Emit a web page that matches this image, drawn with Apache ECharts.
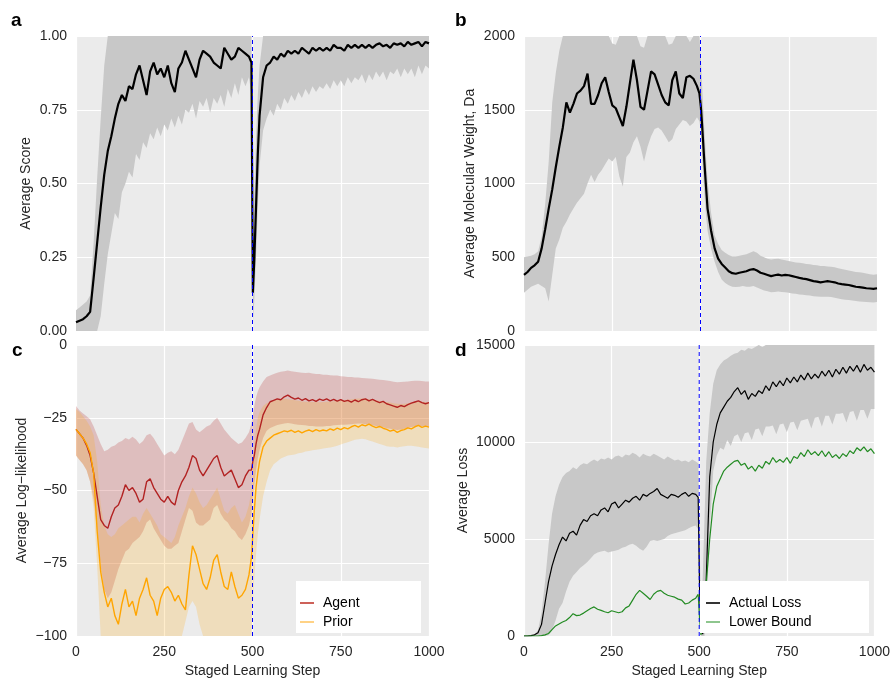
<!DOCTYPE html>
<html>
<head>
<meta charset="utf-8">
<script src="https://cdn.jsdelivr.net/npm/echarts@6/dist/echarts.min.js"></script>
<style>
  html, body { margin: 0; padding: 0; background: #fff; }
  #chart { width: 893px; height: 679px; }
</style>
</head>
<body>
<div id="chart"></div>
<script>
// staged learning steps (denser around the stage switch at 500)
const steps = [
  0, 10, 20, 30, 40, 50, 60, 70, 80, 90,
  100, 110, 120, 130, 140, 150, 160, 170, 180, 190,
  200, 210, 220, 230, 240, 250, 260, 270, 280, 290,
  300, 310, 320, 330, 340, 350, 360, 370, 380, 390,
  400, 410, 420, 430, 440, 450, 460, 470, 480, 490,
  497, 501, 505, 510, 515, 520,
  530, 540, 550, 560, 570, 580, 590, 600,
  610, 620, 630, 640, 650, 660, 670, 680, 690, 700,
  710, 720, 730, 740, 750, 760, 770, 780, 790, 800,
  810, 820, 830, 840, 850, 860, 870, 880, 890, 900,
  910, 920, 930, 940, 950, 960, 970, 980, 990, 1000
];
const switchStep = 500;

// a: average score
const scoreMean = [
  0.03, 0.035, 0.04, 0.05, 0.065, 0.18, 0.30, 0.42, 0.53, 0.61,
  0.66, 0.72, 0.77, 0.80, 0.78, 0.83, 0.82, 0.87, 0.90, 0.85,
  0.80, 0.88, 0.91, 0.87, 0.89, 0.86, 0.90, 0.84, 0.81, 0.89,
  0.91, 0.95, 0.92, 0.89, 0.86, 0.92, 0.95, 0.94, 0.93, 0.91,
  0.90, 0.89, 0.96, 0.94, 0.92, 0.93, 0.96, 0.95, 0.94, 0.93,
  0.91, 0.13, 0.24, 0.42, 0.60, 0.73,
  0.86, 0.90, 0.91, 0.93, 0.92, 0.94, 0.93, 0.95,
  0.94, 0.95, 0.94, 0.96, 0.95, 0.94, 0.96, 0.95, 0.96, 0.95,
  0.96, 0.95, 0.97, 0.96, 0.96, 0.95, 0.97, 0.96, 0.97, 0.96,
  0.97, 0.96, 0.97, 0.96, 0.97, 0.975, 0.965, 0.97, 0.96, 0.975,
  0.97, 0.975, 0.965, 0.98, 0.97, 0.975, 0.98, 0.965, 0.98, 0.975
];
const scoreHi = [
  0.07, 0.08, 0.09, 0.10, 0.12, 0.30, 0.52, 0.72, 0.90, 1,
  1, 1, 1, 1, 1, 1, 1, 1, 1, 1,
  1, 1, 1, 1, 1, 1, 1, 1, 1, 1,
  1, 1, 1, 1, 1, 1, 1, 1, 1, 1,
  1, 1, 1, 1, 1, 1, 1, 1, 1, 1,
  1, 0.3, 0.45, 0.65, 0.8, 0.9,
  1, 1, 1, 1, 1, 1, 1, 1,
  1, 1, 1, 1, 1, 1, 1, 1, 1, 1,
  1, 1, 1, 1, 1, 1, 1, 1, 1, 1,
  1, 1, 1, 1, 1, 1, 1, 1, 1, 1,
  1, 1, 1, 1, 1, 1, 1, 1, 1, 1
];
const scoreLo = [
  0, 0, 0, 0, 0, 0, 0, 0.05, 0.16, 0.26,
  0.33, 0.40, 0.38, 0.47, 0.50, 0.54, 0.52, 0.60, 0.58, 0.64,
  0.62, 0.67, 0.65, 0.69, 0.66, 0.70, 0.68, 0.72, 0.69, 0.73,
  0.70, 0.75, 0.74, 0.77, 0.72, 0.78, 0.76, 0.79, 0.74, 0.79,
  0.77, 0.80, 0.76, 0.82, 0.79, 0.84, 0.80, 0.86, 0.83, 0.86,
  0.80, 0.02, 0.10, 0.25, 0.42, 0.56,
  0.68, 0.72, 0.75, 0.73, 0.77, 0.75, 0.79, 0.77,
  0.80, 0.78, 0.81, 0.79, 0.82, 0.80, 0.83, 0.81, 0.83, 0.82,
  0.84, 0.82, 0.85, 0.83, 0.85, 0.83, 0.86, 0.84, 0.86, 0.85,
  0.87, 0.84, 0.87, 0.85, 0.88, 0.86, 0.88, 0.85, 0.88, 0.87,
  0.89, 0.86, 0.89, 0.87, 0.89, 0.86, 0.90, 0.87, 0.90, 0.89
];

// b: average molecular weight
const mwMean = [
  380, 400, 428, 445, 470, 560, 690, 830, 960, 1110,
  1250, 1380, 1550, 1480, 1540, 1610, 1630, 1660, 1745, 1540,
  1540, 1600, 1680, 1720, 1620, 1530, 1510, 1450, 1390, 1520,
  1680, 1840, 1700, 1520, 1500, 1630, 1760, 1740, 1670, 1600,
  1550, 1530, 1700, 1760, 1610, 1580, 1720, 1730, 1710, 1660,
  1610, 1520, 1380, 1180, 1000, 830,
  680, 560, 490, 455, 430, 405, 392, 388,
  395, 400, 405, 415, 420, 410, 395, 388, 380, 372,
  378, 382, 376, 380, 378, 372, 366, 360, 355, 352,
  345, 338, 335, 330, 334, 338, 334, 330, 322, 318,
  315, 312, 306, 300, 298, 294, 290, 288, 286, 290
];
const mwHi = [
  500, 505, 510, 520, 540, 640, 860, 1150, 1550, 1750,
  1900, 2000, 2000, 2000, 2000, 2000, 2000, 2000, 2000, 2000,
  2000, 2000, 2000, 2000, 2000, 1950, 1940, 2000, 2000, 2000,
  2000, 2000, 2000, 1930, 1920, 2000, 2000, 2000, 2000, 2000,
  2000, 1940, 1950, 2000, 2000, 2000, 2000, 1960, 2000, 2000,
  2000, 1850, 1650, 1400, 1200, 1020,
  800, 650, 590, 550, 530, 515, 505, 505,
  510, 515, 520, 530, 540, 530, 510, 500, 490, 485,
  488, 490, 485, 480, 475, 470, 465, 462, 460, 455,
  452, 448, 445, 440, 440, 438, 435, 432, 425, 420,
  415, 410, 405, 400, 398, 395, 390, 385, 382, 385
];
const mwLo = [
  260, 280, 300, 310, 320, 305, 290, 200, 380, 560,
  620, 700, 740, 790, 830, 870, 900, 930, 1000, 1060,
  1010, 1060, 1090, 1130, 1170, 1150, 1180, 1050, 980, 1180,
  1210, 1280, 1320, 1250, 1150, 1250, 1320, 1370, 1380, 1360,
  1320, 1280, 1300, 1370, 1400, 1430, 1420, 1390, 1410, 1450,
  1420, 1360, 1180, 960, 800, 680,
  560, 470, 400, 350, 325, 310, 300, 298,
  300, 305, 300, 300, 305, 295, 285, 275, 270, 262,
  265, 268, 264, 262, 260, 255, 252, 248, 245, 242,
  240, 236, 234, 232, 233, 232, 230, 226, 220, 215,
  212, 210, 206, 203, 200, 198, 196, 195, 194, 196
];

// c: average log-likelihood
const agentMean = [
  -29, -30.5, -32, -34.5, -38, -44, -52, -60, -62, -63,
  -59, -56, -55, -52, -48, -50, -49, -51, -54, -53,
  -47, -46, -49, -51, -53, -54, -52, -54, -55, -50,
  -47, -45, -42, -38, -39, -43, -45, -43, -41, -39,
  -38, -42, -45, -44, -43, -46, -49, -48, -45, -43,
  -43, -40, -38, -34, -31, -29,
  -24, -21.5, -19.5, -19, -18.5, -18.8, -17.8, -17.2,
  -18, -18.6, -18.2, -19, -18.4, -19.2, -18.8, -19.4, -18.6, -19,
  -18.5, -19.2, -18.7, -19.3, -18.8, -19.4, -19, -19.6, -18.9, -19.5,
  -18.8, -18.5, -19.2, -18.7, -19.3, -19.8, -19.4, -20.2, -20.6, -21,
  -21.4, -20.8, -21.2, -20.5, -20, -19.6, -19.2, -19.8, -20.2, -19.8
];
const agentHi = [
  -21, -22.5, -23.5, -24.5, -25.5, -28, -31, -34, -36.5, -36,
  -35, -34.5, -33.5, -33, -32, -32.5, -31.5, -32.5, -34, -33,
  -31, -30.5, -32, -34, -36, -38, -37, -36.5, -37.5, -36,
  -33, -30, -27, -26.5, -29, -30, -29, -28, -27.5, -26,
  -25, -27, -29, -30.5, -32, -33, -34, -33.5, -32, -30,
  -27, -24, -21, -18, -16, -14.5,
  -12.5, -11, -10.5, -10, -9.5, -9.2, -9, -8.8,
  -9, -9.2, -9.4, -9.5, -9.6, -9.5, -9.8, -10, -10, -10.2,
  -10.2, -10.4, -10.5, -10.5, -10.7, -10.8, -11, -11, -11.2, -11.2,
  -11.3, -11.4, -11.5, -11.6, -11.8, -11.9, -12, -12.2, -12.4, -12.6,
  -12.8, -12.7, -12.6, -12.5, -12.4, -12.3, -12.3, -12.4, -12.5, -12.5
];
const agentLo = [
  -38, -39.5, -41, -43, -47, -53, -64, -76, -84, -87,
  -85, -81, -77, -74, -71, -70, -68, -67, -66, -64,
  -61, -60, -63, -65, -67, -69, -70, -70, -69, -68,
  -64, -60, -56, -57, -61, -62, -62, -61, -60, -56,
  -55, -58, -60, -61, -63, -64, -66, -67, -65, -62,
  -58, -53, -48, -43, -39, -36,
  -32, -29.5, -28.5, -28, -27.5, -27.2, -27, -26.8,
  -27, -27.2, -27.4, -27.5, -27.6, -27.8, -27.8, -28, -28, -28,
  -27.8, -27.8, -27.6, -27.5, -27.4, -27.4, -27.3, -27.2, -27.1, -27,
  -27, -27.2, -27.4, -27.6, -27.8, -28, -28.3, -28.6, -28.8, -29,
  -29.2, -29, -28.8, -28.5, -28.2, -28, -27.8, -27.8, -27.9, -28
];
const priorMean = [
  -29, -30.5, -32, -34, -37, -44, -64, -78, -85, -90,
  -87, -93, -96, -89, -84, -90, -88, -93, -87, -84,
  -80, -86, -88, -93, -87, -84, -83, -85, -88, -86,
  -89, -91, -79, -69, -72, -77, -82, -84, -80, -74,
  -72, -78, -83, -84, -78, -83, -87, -86, -84, -79,
  -73, -65, -57, -49, -44, -40,
  -35, -33, -32, -31, -30.5, -30, -29.5, -29.8,
  -29.3, -30, -29.5, -30.2, -29.6, -29.2, -29.8, -29.1, -29.6, -29.2,
  -29.5, -28.8, -29.3, -28.6, -29.1, -28.4, -28.8, -28.1, -27.6, -28.2,
  -27.4, -27.8, -27.2, -27.9, -28.4, -28, -28.6, -29, -29.6, -29.2,
  -30, -29.4, -29.1, -28.5, -28.8, -28.1, -27.6, -28.3, -27.9, -28.2
];
const priorHi = [
  -22, -23, -24.5, -26, -28, -31, -40, -55, -62, -65,
  -66, -65, -63, -62, -61, -60, -59, -59, -61, -58,
  -56, -58, -60, -62, -65, -66, -67, -68, -66, -62,
  -59, -56, -52, -49, -51, -54, -56, -55, -53, -51,
  -49, -53, -57, -58, -56, -55, -58, -61, -59, -55,
  -50, -42, -35, -29, -25, -23,
  -21, -20, -19.5, -19, -18.8, -18.6, -18.5, -18.6,
  -18.8, -19, -19.2, -19.4, -19.5, -19.5, -19.6, -19.6, -19.7, -19.6,
  -19.5, -19.4, -19.3, -19.2, -19, -18.9, -18.8, -18.6, -18.5, -18.4,
  -18.4, -18.5, -18.6, -18.8, -19, -19.2, -19.4, -19.6, -19.8, -20,
  -20.2, -20.3, -20.2, -20, -19.8, -19.6, -19.5, -19.5, -19.6, -19.8
];
const priorLo = [
  -38, -39.5, -41, -43, -47, -56, -76, -100, -100, -100,
  -100, -100, -100, -100, -100, -100, -100, -100, -100, -100,
  -100, -100, -100, -100, -100, -100, -100, -100, -100, -100,
  -100, -95, -90, -88, -90, -96, -100, -100, -100, -100,
  -100, -100, -100, -100, -100, -100, -100, -100, -100, -100,
  -100, -90, -80, -72, -65, -60,
  -52, -47, -43, -41, -40, -39, -38.5, -38,
  -37.8, -37.6, -37.2, -37, -36.6, -36.4, -36.2, -36, -35.8, -35.6,
  -35.4, -35.2, -35, -34.6, -34.2, -33.8, -33.4, -33, -32.6, -32.4,
  -32.2, -32.4, -32.8, -33.2, -33.6, -34, -34.4, -34.8, -35, -35,
  -35.2, -35, -34.8, -34.6, -34.6, -34.8, -35, -35.2, -35.4, -35.6
];

// d: average loss
const lossMean = [
  0, 0, 20, 60, 170, 600, 1700, 2800, 3600, 4200,
  4700, 5100, 4900, 5300, 5400, 5200, 5700, 6000, 5900, 6200,
  6300, 6200, 6500, 6600, 6400, 6800, 6900, 6600, 6800, 7000,
  6900, 7100, 7200, 7000, 7300, 7200, 7350, 7450, 7600, 7300,
  7200, 7100, 7300, 7250, 7150, 7300, 7400, 7200, 7350, 7300,
  7150, 2500, 300, 100, 900, 2900,
  8200, 10000, 10900, 11500, 11800, 12100, 12300, 12600,
  12800, 12450, 12650, 12200, 12500, 12350, 12650, 12500, 12900, 12650,
  13100, 12850, 13150, 12900, 13300, 13050, 13350, 13100, 13450, 13200,
  13550, 13250, 13500, 13300, 13650, 13400, 13700, 13350, 13750, 13500,
  13850, 13550, 13900, 13650, 13950, 13600, 14000, 13700, 13850, 13600
];
const lossHi = [
  0, 0, 30, 80, 300, 1200, 2800, 4700, 6300, 7200,
  7800, 8200, 8400, 8500, 8700, 8600, 8800, 8900, 8850, 9000,
  9100, 9000, 9150, 9100, 9200, 9100, 9250, 9300, 9200, 9350,
  9300, 9450, 9350, 9200, 9400, 9300, 9250, 9400, 9300, 9200,
  9100, 9250, 9150, 9050, 9100, 9000, 9050, 8950, 9100, 9000,
  8900, 5000, 1500, 3000, 6000, 9000,
  11500, 13000, 13700, 14000, 14200, 14300, 14450, 14550,
  14600, 14750, 14700, 14850, 14800, 14900, 15000, 14900, 15000, 15000,
  15000, 15000, 15000, 15000, 15000, 15000, 15000, 15000, 15000, 15000,
  15000, 15000, 15000, 15000, 15000, 15000, 15000, 15000, 15000, 15000,
  15000, 15000, 15000, 15000, 15000, 15000, 15000, 15000, 15000, 15000
];
const lossLo = [
  0, 0, 0, 0, 0, 0, 0, 50, 300, 800,
  1400, 1700, 2300, 2800, 3100, 3300, 3500, 3650, 3800, 4000,
  4200, 4300, 4350, 4400, 4300, 4350, 4400, 4450, 4550, 4600,
  4700, 4750, 4650, 4500, 4400, 4600, 4900, 4950, 4900, 4950,
  5000, 5150, 5250, 5300, 5350, 5400, 5450, 5550, 5650, 5700,
  5500, 1500, 0, 0, 0, 800,
  5500, 8500, 9300, 9700, 9600, 10100, 9800, 10300,
  10400, 10000, 10450, 10500, 10100, 10650, 10700, 10300, 10800, 10800,
  10850, 10400, 10900, 10950, 10500, 11000, 11050, 10600, 11100, 11150,
  11200, 10700, 11250, 11300, 10800, 11350, 11350, 10900, 11450, 11450,
  11500, 11000, 11550, 11600, 11100, 11650, 11650, 11200, 11700, 11700
];
const boundMean = [
  0, 0, 0, 0, 0, 20, 60, 130, 330, 520,
  620, 720, 800, 950, 1150, 1050, 1080, 1180, 1300, 1420,
  1500, 1380, 1320, 1250, 1200, 1300, 1250, 1200, 1250, 1450,
  1550, 1850, 2150, 2350, 2200, 2050, 1880, 2150, 2300, 2350,
  2200, 2100, 2050, 2000, 1900, 1850, 1650, 1700, 1850, 1950,
  2150, 900, 50, 150, 1200, 2700,
  5000, 6800, 7700, 8100, 8500, 8700, 8850, 9000,
  9050, 8800, 8900, 8600, 8750, 8500, 8800, 8650, 9000, 8850,
  9200, 8950, 9100, 8950, 9200, 8900, 9250, 9150, 9450, 9250,
  9600, 9350, 9500, 9300, 9550, 9250, 9500, 9200, 9350, 9150,
  9400, 9250, 9550, 9400, 9700, 9550, 9750, 9500, 9650, 9400
];

// y-axis limits per panel (a, b, c, d)
const yMin = [0, 0, -100, 0];
const yMax = [1, 2000, 0, 15000];
const yStep = [0.25, 500, 25, 5000];

const FONT = "'Liberation Sans', Arial, Helvetica, sans-serif";
const TXT = '#262626';
const GREY = '#C8C8C8';
const SIZE = 14;

const chart = echarts.init(document.getElementById('chart'));

function pairs(arr) {
  return steps.map((s, i) => [s, arr[i]]);
}

function band(gi, lo, hi, color) {
  return {
    type: 'custom',
    xAxisIndex: gi,
    yAxisIndex: gi,
    silent: true,
    z: 1,
    data: steps.map((s, i) => [s, lo[i], hi[i]]),
    encode: { x: 0, y: [1, 2] },
    renderItem: function (params, api) {
      if (params.dataIndex !== 0) return null;
      const top = [];
      const bottom = [];
      for (let i = 0; i < steps.length; i++) {
        top.push(api.coord([steps[i], hi[i]]));
        bottom.push(api.coord([steps[i], lo[i]]));
      }
      return {
        type: 'polygon',
        shape: { points: top.concat(bottom.reverse()) },
        style: { fill: color }
      };
    }
  };
}

function line(gi, arr, color, width, name) {
  return {
    type: 'line',
    name: name,
    xAxisIndex: gi,
    yAxisIndex: gi,
    data: pairs(arr),
    symbol: 'none',
    silent: true,
    z: 2,
    lineStyle: { color: color, width: width },
    itemStyle: { color: color }
  };
}

// blue dashed divider at the stage switch, spanning the panel
function divider(gi) {
  return {
    type: 'line',
    xAxisIndex: gi,
    yAxisIndex: gi,
    data: [[switchStep, yMin[gi]], [switchStep, yMax[gi]]],
    symbol: 'none',
    silent: true,
    z: 5,
    lineStyle: { color: '#0000FF', type: [4, 3], width: 1 }
  };
}

function xAxis(gi, labels) {
  return {
    type: 'value',
    gridIndex: gi,
    min: 0,
    max: 1000,
    interval: 250,
    axisLine: { show: false },
    axisTick: { show: false },
    splitLine: { show: true, lineStyle: { color: '#ffffff', width: 1.2 } },
    axisLabel: {
      show: labels, color: TXT, fontSize: SIZE, fontFamily: FONT, margin: 9,
      showMinLabel: true, showMaxLabel: true, formatter: v => String(v)
    },
    name: labels ? 'Staged Learning Step' : '',
    nameLocation: 'middle',
    nameGap: 28,
    nameTextStyle: { color: TXT, fontSize: SIZE, fontFamily: FONT }
  };
}

function yAxis(gi, name, gap, fmt) {
  return {
    type: 'value',
    gridIndex: gi,
    min: yMin[gi],
    max: yMax[gi],
    interval: yStep[gi],
    axisLine: { show: false },
    axisTick: { show: false },
    splitLine: { show: true, lineStyle: { color: '#ffffff', width: 1.2 } },
    axisLabel: {
      color: TXT, fontSize: SIZE, fontFamily: FONT, margin: 9, formatter: fmt,
      showMinLabel: true, showMaxLabel: true
    },
    name: name,
    nameLocation: 'middle',
    nameGap: gap,
    nameTextStyle: { color: TXT, fontSize: SIZE, fontFamily: FONT }
  };
}

function panelTitle(text, left, top) {
  return {
    text: text, left: left, top: top, padding: 0,
    textStyle: { fontSize: 19, fontWeight: 'bold', color: '#000', fontFamily: FONT }
  };
}

function legend(left, top, items) {
  return {
    orient: 'vertical',
    left: left,
    top: top,
    padding: 0,
    itemGap: 5,
    itemWidth: 14,
    itemHeight: 14,
    icon: 'path://M0,0H14V1.6H0Z',
    z: 20,
    selectedMode: false,
    textStyle: { color: '#000', fontSize: SIZE, fontFamily: FONT, padding: [0, 0, 0, 4] },
    data: items
  };
}

const option = {
  animation: false,
  backgroundColor: '#ffffff',
  title: [
    panelTitle('a', 11, 11),
    panelTitle('b', 455, 11),
    panelTitle('c', 12, 341),
    panelTitle('d', 455, 341)
  ],
  grid: [
    { left: 76, top: 36, width: 353, height: 295 },
    { left: 524, top: 36, width: 353, height: 295 },
    { left: 76, top: 345, width: 353, height: 295 },
    { left: 524, top: 345, width: 353, height: 295 }
  ].map(g => Object.assign(g, { show: true, backgroundColor: '#EBEBEB', borderWidth: 0 })),
  xAxis: [xAxis(0, false), xAxis(1, false), xAxis(2, true), xAxis(3, true)],
  yAxis: [
    yAxis(0, 'Average Score', 43, v => v.toFixed(2)),
    yAxis(1, 'Average Molecular Weight, Da', 47, v => String(v)),
    yAxis(2, 'Average Log\u2212likelihood', 47,
      v => (v < 0 ? '\u2212' + Math.abs(v) : String(v))),
    yAxis(3, 'Average Loss', 54, v => String(v))
  ],
  graphic: [
    { type: 'rect', z: 10, silent: true, shape: { x: 296, y: 581, width: 125, height: 52 }, style: { fill: '#ffffff' } },
    { type: 'rect', z: 10, silent: true, shape: { x: 700, y: 581, width: 169, height: 52 }, style: { fill: '#ffffff' } }
  ],
  legend: [
    legend(300, 596, [
      { name: 'Agent', itemStyle: { color: '#C0392F' } },
      { name: 'Prior', itemStyle: { color: '#FFC766' } }
    ]),
    legend(706, 596, [
      { name: 'Actual Loss', itemStyle: { color: '#000000' } },
      { name: 'Lower Bound', itemStyle: { color: '#72B872' } }
    ])
  ],
  series: [
    band(0, scoreLo, scoreHi, GREY),
    line(0, scoreMean, '#000000', 2.2, 'Score'),
    band(1, mwLo, mwHi, GREY),
    line(1, mwMean, '#000000', 2.2, 'Molecular Weight'),
    band(2, agentLo, agentHi, 'rgba(178,34,34,0.22)'),
    band(2, priorLo, priorHi, 'rgba(255,165,0,0.2)'),
    line(2, agentMean, '#B22222', 1.4, 'Agent'),
    line(2, priorMean, '#FFA500', 1.4, 'Prior'),
    band(3, lossLo, lossHi, GREY),
    line(3, lossMean, '#000000', 1.2, 'Actual Loss'),
    line(3, boundMean, '#228B22', 1.2, 'Lower Bound'),
    divider(0),
    divider(1),
    divider(2),
    divider(3)
  ]
};

chart.setOption(option);
window.addEventListener('resize', chart.resize);
</script>
</body>
</html>
